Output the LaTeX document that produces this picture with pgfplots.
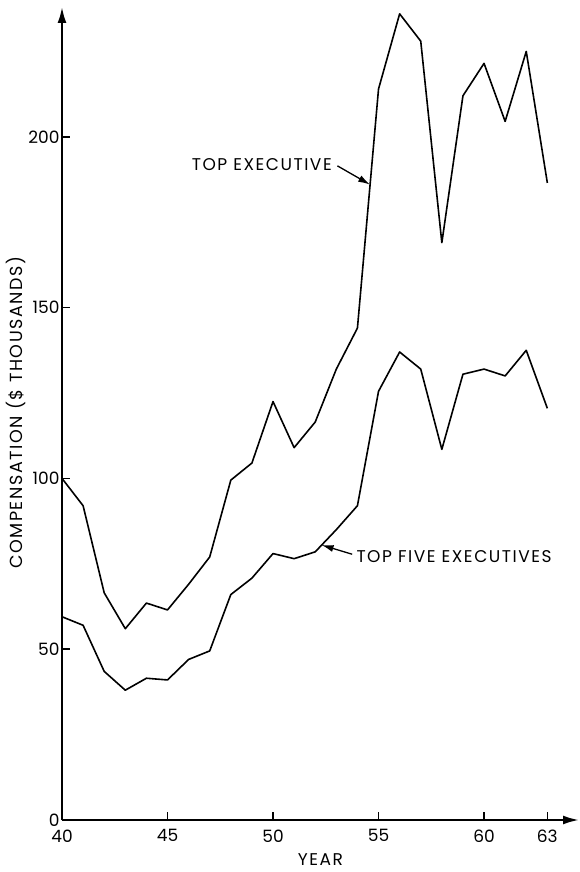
\documentclass[border=0pt]{standalone}
\usepackage{fontspec}
\setmainfont{Poppins}
\newfontfamily\lett[LetterSpace=9]{Poppins}
\usepackage{pgfplots}
\pgfplotsset{compat=1.18}
\usetikzlibrary{arrows.meta}

\begin{document}
\fontsize{16}{19}\selectfont
\begin{tikzpicture}
\useasboundingbox (-62pt,-52pt) rectangle (517pt,820pt);
\begin{axis}[
  at={(0,0)}, anchor=south west,
  width=517pt, height=813pt, scale only axis,
  xmin=40, xmax=64.5, ymin=0, ymax=238,
  axis lines=left,
  axis line style={line width=2.2pt},
  x axis line style={-{Latex[length=16pt,width=9pt]}},
  y axis line style={-{Latex[length=16pt,width=9pt]}},
  xtick={40,45,50,55,60,63},
  ytick={0,50,100,150,200},
  tick align=inside,
  major tick length=8pt,
  tick style={line width=1.5pt, black},
  /pgf/number format/assume math mode=true,
  ticklabel style={font=\fontsize{17}{20}\selectfont},
  xticklabel style={yshift=-4pt},
  yticklabel style={xshift=3pt},
  xlabel={YEAR},
  ylabel={COMPENSATION (\$ THOUSANDS)},
  xlabel style={at={(axis description cs:0.5,0)}, anchor=center, inner sep=0pt, yshift=-40pt, font=\lett\fontsize{17}{20}\selectfont},
  ylabel style={at={(axis description cs:-0.089,0.501)}, anchor=center, font=\lett\fontsize{17.5}{20}\selectfont},
  clip=false,
]
% top executive
\addplot[black, line width=1.6pt, line join=round] coordinates {
(40,100) (41,92) (42,66.5) (43,56) (44,63.5) (45,61.5) (46,69) (47,77)
(48,99.5) (49,104.5) (50,122.5) (51,109) (52,116.5) (53,132) (54,144)
(55,214) (56,236) (57,228) (58,169) (59,212) (60,221.5) (61,204.5)
(62,225) (63,186.5)
};
% top five executives
\addplot[black, line width=1.6pt, line join=round] coordinates {
(40,59.5) (41,57) (42,43.5) (43,38) (44,41.5) (45,41) (46,47) (47,49.5)
(48,66) (49,70.8) (50,78) (51,76.5) (52,78.5) (53,85) (54,92)
(55,125.5) (56,137) (57,132) (58,108.5) (59,130.5) (60,132) (61,130)
(62,137.5) (63,120.5)
};
\node[anchor=east, inner sep=1pt, font=\lett\fontsize{17}{20}\selectfont] at (axis cs:52.84,192) {TOP EXECUTIVE};
\draw[line width=1.3pt, -{Latex[length=12pt,width=7pt]}] (axis cs:53.05,191.5) -- (axis cs:54.6,186);
\node[anchor=west, inner sep=1pt, font=\lett\fontsize{17}{20}\selectfont] at (axis cs:53.9,77) {TOP FIVE EXECUTIVES};
\draw[line width=1.3pt, -{Latex[length=12pt,width=7pt]}] (axis cs:53.75,77.8) -- (axis cs:52.3,80.5);
\end{axis}
\end{tikzpicture}
\end{document}
